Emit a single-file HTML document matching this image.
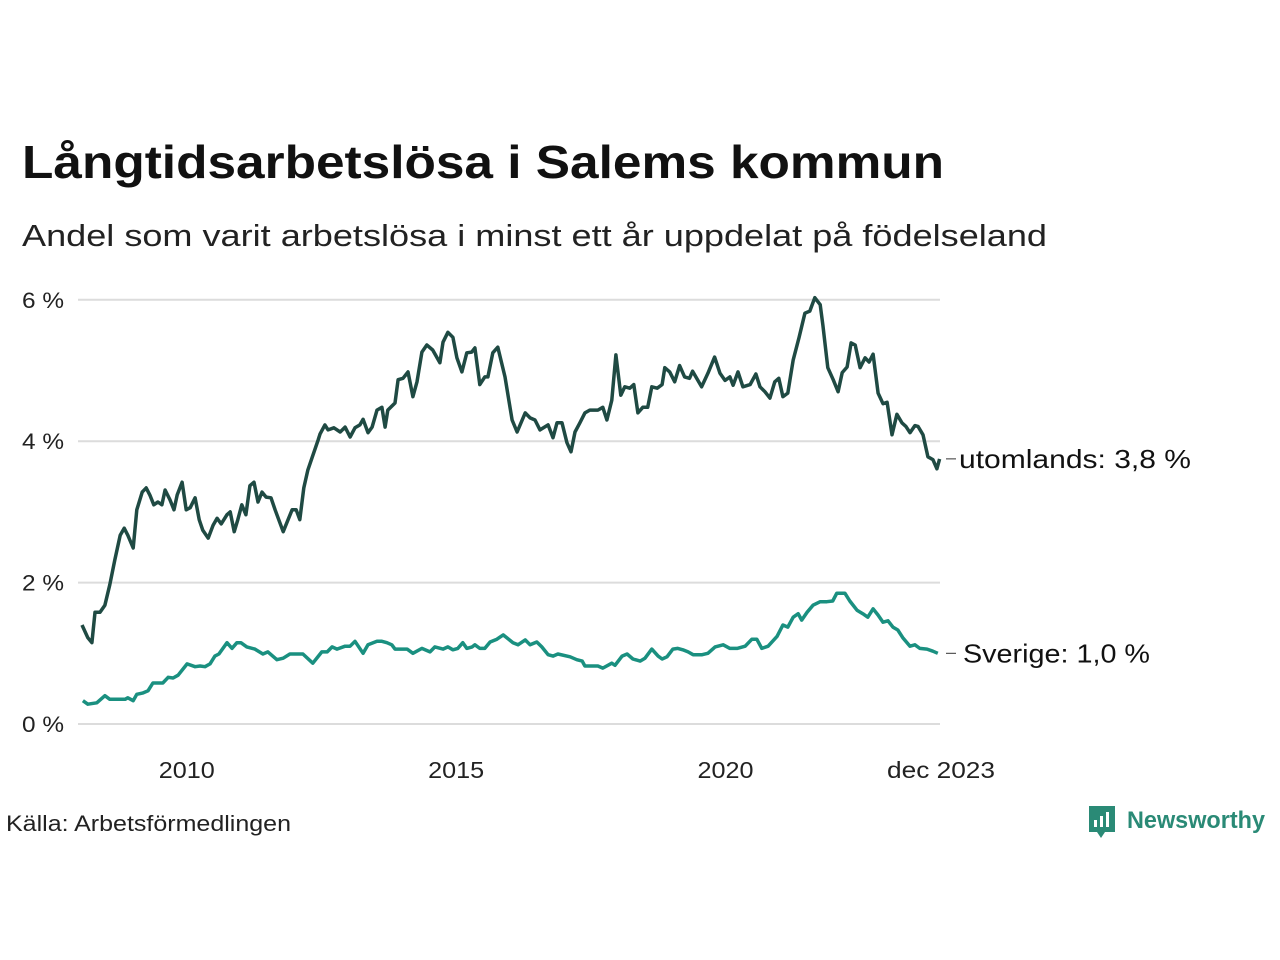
<!DOCTYPE html>
<html><head><meta charset="utf-8"><style>
html,body{margin:0;padding:0;background:#fff;}
svg{display:block;font-family:"Liberation Sans",sans-serif;}
</style></head><body>
<svg id="chart" width="1280" height="960" viewBox="0 0 1280 960">
<text x="22" y="178" font-size="46" font-weight="bold" fill="#111" textLength="922" lengthAdjust="spacingAndGlyphs">Långtidsarbetslösa i Salems kommun</text>
<text x="22" y="246" font-size="31" fill="#222" textLength="1025" lengthAdjust="spacingAndGlyphs">Andel som varit arbetslösa i minst ett år uppdelat på födelseland</text>
<g id="grid"></g>
<g id="yaxis"></g>
<g id="xaxis"></g>
<g id="lines"></g>
<g id="labels"></g>
<text x="6" y="831" font-size="22" fill="#222" textLength="285" lengthAdjust="spacingAndGlyphs">Källa: Arbetsförmedlingen</text>
<g>
<path d="M1089 806 h26 v26 h-10 l-4 6 l-4 -6 h-8 z" fill="#2a8a76"/>
<rect x="1094" y="820" width="3" height="7" fill="#fff"/>
<rect x="1100" y="816" width="3" height="11" fill="#fff"/>
<rect x="1106" y="812" width="3" height="15" fill="#fff"/>
<text x="1127" y="828" font-size="24" font-weight="bold" fill="#2a8a76" textLength="138" lengthAdjust="spacingAndGlyphs">Newsworthy</text>
</g>
</svg>
<script>
// month offsets from Jan 2008
const utlMonths=[0,1.3,2.2,2.9,4,5.1,6.2,7.3,8.5,9.4,10.2,11.4,12.2,13.4,14.3,15.1,16,16.9,17.8,18.5,19.6,20.5,21.2,22.3,23.2,24.1,25.2,26.1,26.9,28.1,29.2,30.1,31,32.3,33,33.9,34.7,35.6,36.5,37.4,38.3,39.2,40.1,41,42.1,43,44.8,45.7,46.8,47.7,48.5,49.4,50.3,51.2,52.6,53,54.1,54.8,56.1,57.5,58.6,59.7,60.8,61.9,62.6,63.7,64.6,65.7,66.8,67.5,68.1,69.7,70.4,71.5,72.6,73.7,74.6,75.7,76.8,78.1,79.7,80.4,81.5,82.6,83.5,84.6,85.7,86.8,87.5,88.6,89.7,90.4,91.5,92.6,94.2,95.8,96.9,98.7,99.8,100.9,102,103.8,104.9,105.8,106.9,108,108.9,109.8,110.9,112,113.1,114.9,116,116.9,118,118.9,120,120.9,122,122.9,123.8,124.9,126,126.9,128.1,129.2,129.8,130.9,132,133.1,134.2,135.3,136,138,139.4,140.9,142.1,143.2,144.3,145,146.1,147.2,148.8,150.1,151,152.1,153.2,154.3,155.2,156.1,157.2,158.4,159.7,161,162.1,163.2,164.4,165,166.1,167.3,168.4,169.3,170.4,171.3,172.2,173.3,174.4,175.3,176.2,177.3,178.4,179.3,180.4,181.5,182.6,183.5,184.4,185.5,186.2,187.3,188.4,189.5,190.4,191];
const utlValues=[1.40,1.22,1.15,1.58,1.58,1.68,1.97,2.32,2.67,2.77,2.67,2.49,3.03,3.28,3.34,3.24,3.10,3.14,3.10,3.31,3.17,3.03,3.24,3.42,3.03,3.06,3.20,2.89,2.74,2.63,2.81,2.91,2.83,2.96,3.00,2.72,2.89,3.10,2.96,3.37,3.42,3.14,3.28,3.21,3.20,3.03,2.72,2.86,3.03,3.03,2.89,3.34,3.59,3.76,4.02,4.10,4.23,4.16,4.19,4.13,4.20,4.06,4.19,4.23,4.31,4.12,4.20,4.44,4.48,4.20,4.44,4.54,4.87,4.89,4.98,4.63,4.84,5.26,5.36,5.29,5.11,5.40,5.54,5.47,5.18,4.98,5.25,5.26,5.32,4.80,4.91,4.91,5.25,5.33,4.91,4.30,4.13,4.40,4.33,4.30,4.16,4.23,4.05,4.26,4.26,3.98,3.85,4.13,4.26,4.40,4.44,4.44,4.48,4.30,4.58,5.22,4.65,4.77,4.75,4.80,4.40,4.48,4.48,4.77,4.75,4.80,5.04,4.98,4.84,5.07,4.91,4.89,4.99,4.77,4.96,5.19,4.96,4.86,4.91,4.79,4.98,4.77,4.80,4.95,4.77,4.70,4.61,4.84,4.89,4.63,4.68,5.15,5.47,5.81,5.84,6.03,5.93,5.64,5.04,4.87,4.70,4.97,5.05,5.39,5.36,5.04,5.18,5.12,5.23,4.68,4.53,4.55,4.09,4.38,4.26,4.21,4.12,4.22,4.21,4.09,3.78,3.74,3.61,3.75];
const sweMonths=[0.2,1.3,3.3,5.1,6.2,9.6,10.2,11.4,12.2,13.6,14.7,15.8,18,19.2,20.3,21.4,23.4,25.2,26.3,27.4,28.5,29.6,30.5,32.3,33.4,34.5,35.4,36.7,38.5,40.3,41.4,43.4,44.8,46.3,49.2,51.4,53.4,54.6,55.7,56.8,58.6,59.7,60.8,62.6,63.7,65.7,66.8,67.9,69,69.7,72.4,73.7,75.7,77.5,78.6,80.4,81.5,82.6,83.7,84.8,85.7,86.9,87.5,88.6,89.7,90.9,92.4,93.8,96,97.1,98.7,99.8,101.3,102.4,103.8,104.9,106,108.7,110.2,111.4,112,114.9,116,118,118.7,120.3,121.4,122.7,124.3,125.4,126.9,128.3,129.2,130.3,131.6,132.7,133.8,135,136.1,138.1,139.4,141,142.8,144.3,145.9,147.7,149.2,150.3,151.4,152.8,154.8,156.1,157.2,158.4,159.5,160.3,161.5,162.8,164.4,165.9,167.2,168.1,169.9,171,172.6,173.9,175,176.2,177.3,178.4,179.5,180.6,181.7,182.8,184.4,185.5,186.6,188.2,189.5,190.6];
const sweValues=[0.33,0.28,0.30,0.40,0.35,0.35,0.37,0.33,0.42,0.44,0.47,0.58,0.58,0.66,0.65,0.69,0.85,0.81,0.82,0.81,0.85,0.96,0.99,1.15,1.07,1.15,1.15,1.09,1.06,0.99,1.02,0.91,0.93,0.99,0.99,0.86,1.02,1.02,1.09,1.06,1.10,1.10,1.17,1.00,1.12,1.17,1.17,1.15,1.12,1.06,1.06,1.00,1.07,1.02,1.09,1.06,1.09,1.05,1.07,1.15,1.07,1.09,1.12,1.07,1.07,1.16,1.20,1.26,1.15,1.12,1.19,1.12,1.16,1.09,0.98,0.96,0.99,0.95,0.91,0.89,0.82,0.82,0.79,0.86,0.83,0.96,0.99,0.92,0.89,0.93,1.06,0.96,0.92,0.95,1.06,1.07,1.05,1.02,0.98,0.98,1.00,1.09,1.12,1.07,1.07,1.10,1.20,1.20,1.07,1.10,1.24,1.40,1.37,1.51,1.56,1.47,1.58,1.68,1.73,1.73,1.74,1.85,1.85,1.74,1.61,1.56,1.51,1.63,1.54,1.44,1.46,1.37,1.33,1.22,1.10,1.12,1.07,1.06,1.03,1.00];
const yTicks=[0,2,4,6];
const yTickLabels=["0 %","2 %","4 %","6 %"];
const xTickMonths=[24,84,144,191];
const xTickLabels=["2010","2015","2020","dec 2023"];
const seriesLabels=["utomlands: 3,8 %","Sverige: 1,0 %"];

const NS="http://www.w3.org/2000/svg";
const xS=m=>82+m*4.49;
const yS=v=>724-v*70.7;
function mk(tag,attrs,parent){const e=document.createElementNS(NS,tag);for(const k in attrs)e.setAttribute(k,attrs[k]);parent.appendChild(e);return e;}
const grid=document.getElementById('grid'),ya=document.getElementById('yaxis'),xa=document.getElementById('xaxis'),ln=document.getElementById('lines'),lb=document.getElementById('labels');
yTicks.forEach((t,i)=>{
  const l=mk('line',{x1:78,x2:940,y1:yS(t),y2:yS(t),stroke:'#dcdcdc','stroke-width':2},grid);
  
  
  const tx=mk('text',{x:22,y:yS(t)+8,'font-size':22,fill:'#222',textLength:42,lengthAdjust:'spacingAndGlyphs'},ya);
  tx.textContent=yTickLabels[i];
  
  
});
xTickMonths.forEach((m,i)=>{
  const w=i==3?108:56;
  const cx=i==3?941:xS(m)-3;
  const tx=mk('text',{x:cx-w/2,y:778,'font-size':23,fill:'#222',textLength:w,lengthAdjust:'spacingAndGlyphs'},xa);
  tx.textContent=xTickLabels[i];
  
  
});
function path(ms,vs){return ms.map((m,i)=>(i?'L':'M')+xS(m).toFixed(1)+' '+yS(vs[i]).toFixed(1)).join(' ');}
const p1=mk('path',{d:path(utlMonths,utlValues),fill:'none',stroke:'#1f4a43','stroke-width':3.5,'stroke-linejoin':'round'},ln);


const p2=mk('path',{d:path(sweMonths,sweValues),fill:'none',stroke:'#1a9080','stroke-width':3.5,'stroke-linejoin':'round'},ln);


const ends=[[utlMonths,utlValues],[sweMonths,sweValues]];
const labelW=[232,187];
ends.forEach((s,i)=>{
  const v=s[1][s[1].length-1];
  const y=yS(v);
  const tk=mk('line',{x1:946,x2:956,y1:y,y2:y,stroke:'#333','stroke-width':1},lb);
  
  
  const t=mk('text',{x:i==0?959:963,y:y+9,'font-size':26,fill:'#111',textLength:labelW[i],lengthAdjust:'spacingAndGlyphs'},lb);
  t.textContent=seriesLabels[i];
  
  
});
</script>
</body></html>
